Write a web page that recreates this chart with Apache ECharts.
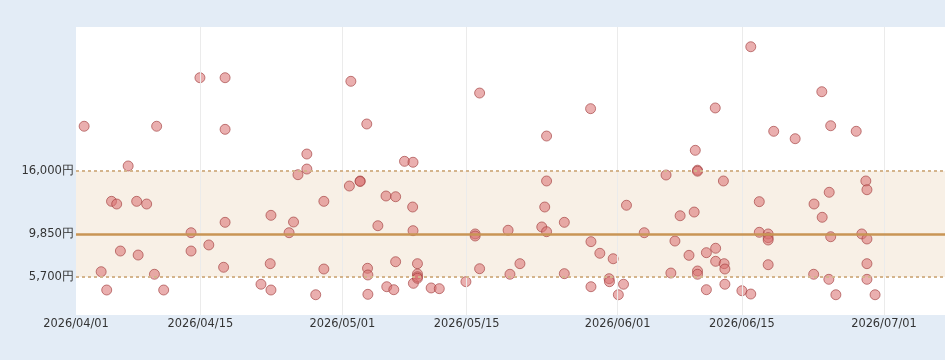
<!DOCTYPE html>
<html>
<head>
<meta charset="utf-8">
<script src="https://cdn.jsdelivr.net/npm/echarts@6/dist/echarts.min.js"></script>
<style>
  html, body { margin: 0; padding: 0; background: #e3ecf6; }
  #chart { width: 945px; height: 360px; }
</style>
</head>
<body>
<div id="chart"></div>
<script>
// x tick labels
const dateTicks = ['2026-04-01', '2026-04-15', '2026-05-01', '2026-05-15', '2026-06-01', '2026-06-15', '2026-07-01'];
// y reference values (lower bound, average, upper bound)
const priceTicks = [5700, 9850, 16000];
const bandLow = 5700;
const bandHigh = 16000;
const avgPrice = 9850;

const pointTimes = [
  '2026-04-01 22:00', '2026-04-03 20:00', '2026-04-04 11:00', '2026-04-05 00:00', '2026-04-05 14:00',
  '2026-04-06 00:00', '2026-04-06 21:00', '2026-04-07 20:00', '2026-04-08 00:00', '2026-04-08 23:00',
  '2026-04-09 20:00', '2026-04-10 02:00', '2026-04-10 21:00', '2026-04-13 23:00', '2026-04-13 23:00',
  '2026-04-14 23:00', '2026-04-15 23:00', '2026-04-17 15:00', '2026-04-17 19:00', '2026-04-17 19:00',
  '2026-04-17 19:00', '2026-04-21 20:00', '2026-04-22 23:00', '2026-04-22 21:00', '2026-04-22 23:00',
  '2026-04-25 00:00', '2026-04-25 12:00', '2026-04-26 00:00', '2026-04-27 00:00', '2026-04-27 00:00',
  '2026-04-28 00:00', '2026-04-28 22:00', '2026-04-28 22:00', '2026-05-01 19:00', '2026-05-01 23:00',
  '2026-05-03 00:00', '2026-05-03 00:00', '2026-05-03 18:00', '2026-05-03 20:00', '2026-05-03 21:00',
  '2026-05-03 21:00', '2026-05-05 00:00', '2026-05-05 22:00', '2026-05-06 00:00', '2026-05-06 19:00',
  '2026-05-07 00:00', '2026-05-07 00:00', '2026-05-08 00:00', '2026-05-08 23:00', '2026-05-08 22:00',
  '2026-05-08 23:00', '2026-05-09 00:00', '2026-05-09 11:00', '2026-05-09 11:00', '2026-05-09 11:00',
  '2026-05-09 11:00', '2026-05-11 00:00', '2026-05-11 22:00', '2026-05-14 22:00', '2026-05-15 23:00',
  '2026-05-15 23:00', '2026-05-16 11:00', '2026-05-16 11:00', '2026-05-19 16:00', '2026-05-19 21:00',
  '2026-05-21 00:00', '2026-05-23 11:00', '2026-05-23 19:00', '2026-05-24 00:00', '2026-05-24 00:00',
  '2026-05-24 00:00', '2026-05-26 00:00', '2026-05-26 00:00', '2026-05-28 23:00', '2026-05-29 00:00',
  '2026-05-29 00:00', '2026-05-30 00:00', '2026-05-31 01:00', '2026-05-31 02:00', '2026-05-31 12:00',
  '2026-06-01 02:00', '2026-06-01 16:00', '2026-06-02 00:00', '2026-06-04 00:00', '2026-06-06 11:00',
  '2026-06-07 00:00', '2026-06-07 11:00', '2026-06-08 01:00', '2026-06-09 01:00', '2026-06-09 15:00',
  '2026-06-09 18:00', '2026-06-10 00:00', '2026-06-10 00:00', '2026-06-10 00:00', '2026-06-10 00:00',
  '2026-06-11 00:00', '2026-06-11 00:00', '2026-06-12 00:00', '2026-06-12 01:00', '2026-06-12 01:00',
  '2026-06-12 22:00', '2026-06-13 00:00', '2026-06-13 02:00', '2026-06-13 02:00', '2026-06-15 00:00',
  '2026-06-16 00:00', '2026-06-16 00:00', '2026-06-16 23:00', '2026-06-16 23:00', '2026-06-17 23:00',
  '2026-06-17 23:00', '2026-06-17 23:00', '2026-06-17 23:00', '2026-06-18 14:00', '2026-06-21 00:00',
  '2026-06-23 02:00', '2026-06-23 03:00', '2026-06-24 00:00', '2026-06-24 01:00', '2026-06-24 19:00',
  '2026-06-24 20:00', '2026-06-25 00:00', '2026-06-25 00:00', '2026-06-25 14:00', '2026-06-27 21:00',
  '2026-06-28 12:00', '2026-06-28 23:00', '2026-06-29 02:00', '2026-06-29 02:00', '2026-06-29 02:00',
  '2026-06-29 02:00', '2026-06-30 00:00'
];

const pointPrices = [
  20350, 6210, 4430, 13050, 12790,
  8220, 16490, 13050, 7830, 12790,
  5960, 20350, 4430, 10000, 8220,
  25070, 8810, 6640, 25070, 20050,
  11010, 4990, 11690, 6990, 4430,
  10000, 11040, 15640, 16190, 17650,
  3970, 13050, 6470, 14540, 24720,
  15030, 14980, 20570, 6540, 5890,
  4010, 10680, 13570, 4750, 4460,
  7180, 13500, 16940, 16850, 12500,
  10200, 5080, 6990, 5990, 5720,
  5570, 4630, 4560, 5240, 9880,
  9680, 23580, 6500, 10240, 5960,
  6990, 10560, 12500, 19400, 15030,
  10100, 11010, 6020, 22060, 9130,
  4750, 8000, 5530, 5240, 7470,
  3970, 4990, 12670, 10000, 15610,
  6080, 9190, 11650, 7800, 12010,
  18010, 16080, 15980, 6280, 5960,
  8060, 4460, 22130, 8490, 7220,
  15030, 6990, 6470, 4990, 4360,
  28080, 4040, 13020, 10040, 9880,
  9520, 9290, 6890, 19860, 19140,
  5960, 12790, 23710, 11500, 5470,
  13930, 9610, 20400, 3970, 19860,
  9880, 15030, 14180, 9390, 6990,
  5470, 3970
];

const tickStamps = dateTicks.map(d => echarts.number.parseDate(d).getTime());
const points = pointTimes.map((t, i) => [t, pointPrices[i]]);

const chart = echarts.init(document.getElementById('chart'));
const fontFamily = 'DejaVu Sans, sans-serif';

chart.setOption({
  backgroundColor: '#e3ecf6',
  animation: false,
  grid: {
    left: 76, right: 0, top: 27, bottom: 45,
    show: true, backgroundColor: '#ffffff', borderWidth: 0
  },
  xAxis: {
    type: 'time',
    min: '2026-04-01',
    max: '2026-07-07 21:00',
    axisLine: { show: false },
    axisTick: { show: false },
    splitLine: { show: false },
    axisLabel: {
      customValues: tickStamps,
      formatter: '{yyyy}/{MM}/{dd}',
      color: '#333',
      fontFamily: fontFamily,
      fontSize: 11.4,
      margin: 4,
      showMinLabel: true,
      showMaxLabel: true
    }
  },
  yAxis: {
    type: 'value',
    min: 2000,
    max: 30000,
    axisLine: { show: false },
    axisTick: { show: false },
    splitLine: { show: false },
    axisLabel: {
      customValues: priceTicks,
      formatter: v => v.toLocaleString('en-US') + '円',
      color: '#333',
      fontFamily: fontFamily,
      fontSize: 11.6,
      margin: 2
    }
  },
  series: [
    {
      // band, reference lines and vertical grid lines
      type: 'scatter',
      data: [],
      z: 1,
      silent: true,
      markArea: {
        silent: true,
        itemStyle: { color: '#f8f0e6' },
        data: [[{ yAxis: bandLow }, { yAxis: bandHigh }]]
      },
      markLine: {
        silent: true,
        symbol: 'none',
        label: { show: false },
        data: tickStamps.slice(1).map(ts => ({
          xAxis: ts,
          lineStyle: { color: '#ebebeb', width: 1, type: 'solid' }
        })).concat([
          { yAxis: bandLow, lineStyle: { color: '#d4b48c', width: 2, type: [3, 3] } },
          { yAxis: bandHigh, lineStyle: { color: '#d4b48c', width: 2, type: [3, 3] } },
          { yAxis: avgPrice, lineStyle: { color: '#c99555', width: 2.5, type: 'solid' } }
        ])
      }
    },
    {
      name: '価格',
      type: 'scatter',
      z: 3,
      symbol: 'circle',
      symbolSize: 10,
      data: points,
      itemStyle: {
        color: 'rgba(218,112,112,0.7)',
        borderColor: 'rgba(160,60,60,0.8)',
        borderWidth: 1
      }
    }
  ]
});
</script>
</body>
</html>
